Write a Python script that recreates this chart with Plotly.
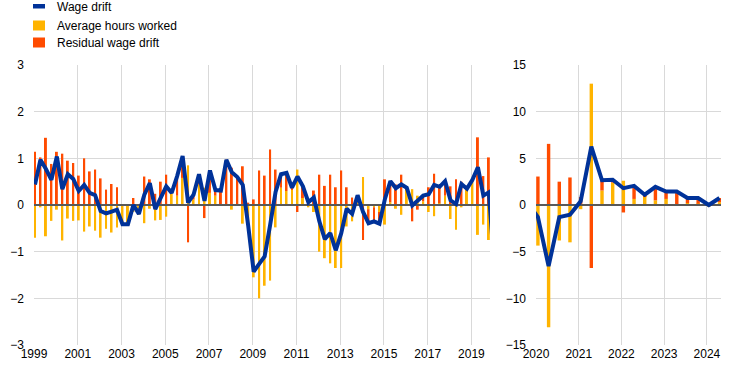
import plotly.graph_objects as go

# ---------------- data (quarterly, percentage points) ----------------
hist_start = 1999  # 1999Q1 .. 2019Q4
hours_hist = [
    -0.70, -0.05, -0.67, -0.34, -0.10, -0.76, -0.29, -0.34, -0.33, -0.57,
    -0.46, -0.55, -0.70, -0.51, -0.59, -0.48, -0.43, -0.41, -0.15, -0.21,
    -0.39, -0.08, -0.33, -0.32, -0.25, 0.26, 0.20, 0.58, 0.85, 0.12,
    0.44, 0.37, 0.26, 0.20, 0.01, 0.02, -0.10, 0.00, -0.40, -0.50,
    -1.55, -2.00, -1.73, -1.62, -0.48, 0.37, 0.30, 0.33, 0.76, 0.15,
    -0.05, -0.15, -1.00, -1.14, -1.25, -1.35, -1.35, -0.46, -0.35, 0.10,
    0.60, -0.09, -0.05, -0.15, -0.42, 0.06, -0.08, -0.21, 0.33, 0.34,
    0.20, 0.08, -0.15, -0.24, 0.04, 0.20, -0.30, -0.53, -0.05, 0.35,
    0.50, -0.64, -0.42, -0.75,
]
resid_hist = [
    1.14, 1.02, 1.44, 0.88, 1.14, 1.10, 0.95, 0.90, 0.63, 1.00,
    0.72, 0.76, 0.57, 0.33, 0.45, 0.38, 0.02, 0.00, 0.15, 0.02,
    0.61, 0.55, 0.24, 0.50, 0.65, 0.00, 0.42, 0.47, -0.80, 0.10,
    0.22, -0.28, 0.48, 0.12, 0.30, 0.95, 0.80, 0.60, 0.83, 0.05,
    0.12, 0.74, 0.63, 1.19, 0.76, 0.29, 0.39, 0.04, -0.15, 0.25,
    0.11, 0.31, 0.65, 0.41, 0.65, 0.38, 0.74, 0.38, 0.16, 0.11,
    -0.75, -0.30, -0.30, -0.25, 0.55, 0.45, 0.44, 0.65, 0.04, -0.35,
    -0.10, 0.12, 0.38, 0.67, 0.35, 0.31, 0.40, 0.55, 0.50, 0.00,
    0.04, 1.45, 0.62, 1.02,
]
wage_hist = [
    0.44, 0.97, 0.77, 0.54, 1.04, 0.34, 0.66, 0.56, 0.30, 0.43,
    0.26, 0.21, -0.13, -0.18, -0.14, -0.10, -0.41, -0.41, 0.00, -0.19,
    0.22, 0.47, -0.09, 0.18, 0.40, 0.26, 0.62, 1.05, 0.05, 0.22,
    0.66, 0.09, 0.74, 0.32, 0.31, 0.97, 0.70, 0.60, 0.43, -0.45,
    -1.43, -1.26, -1.10, -0.43, 0.28, 0.66, 0.69, 0.37, 0.61, 0.40,
    0.06, 0.16, -0.35, -0.73, -0.60, -0.97, -0.61, -0.08, -0.19, 0.21,
    -0.15, -0.39, -0.35, -0.40, 0.13, 0.51, 0.36, 0.44, 0.37, -0.01,
    0.10, 0.20, 0.23, 0.43, 0.39, 0.51, 0.10, 0.02, 0.45, 0.35,
    0.54, 0.81, 0.20, 0.27,
]

recent_start = 2020  # 2020Q1 .. 2024Q2
hours_recent = [-4.35, -13.1, -3.8, -4.0, -0.45, 13.0, 1.55, 2.4, 2.6,
                0.65, 0.95, 0.5, 0.65, 0.05, 0.2, 0.15, -0.2, 0.3]
resid_recent = [3.05, 6.55, 2.5, 2.95, 0.85, -6.75, 1.1, 0.3, -0.8,
                1.4, 0.15, 1.45, 0.8, 1.4, 0.55, 0.6, 0.2, 0.45]
wage_recent = [-1.3, -6.55, -1.3, -1.05, 0.4, 6.25, 2.65, 2.7, 1.8,
               2.05, 1.1, 1.95, 1.45, 1.45, 0.75, 0.75, 0.0, 0.75]

left_ticks = [1999, 2001, 2003, 2005, 2007, 2009, 2011, 2013, 2015, 2017, 2019]
right_ticks = [2020, 2021, 2022, 2023, 2024]

series_names = ["Wage drift", "Average hours worked", "Residual wage drift"]

# ---------------- style ----------------
BLUE = "#003299"
YELLOW = "#FFB400"
ORANGE = "#FF4B00"
GRID = "#D9D9D9"
ZERO = "#595959"
FONT = "Liberation Sans, Arial, sans-serif"

W, H = 744, 373
M_L, M_R, M_T, M_B = 34, 23, 65, 28
PW, PH = W - M_L - M_R, H - M_T - M_B


def qx(start, n):
    # quarterly positions (bars drawn just after the start of each quarter)
    return [start + i / 4 + 0.045 for i in range(n)]


x_hist = qx(hist_start, len(wage_hist))
x_recent = qx(recent_start, len(wage_recent))

left_range = [1999, 2019.85]
right_range = [2020, 2024.33]

fig = go.Figure()

for xs, hrs, res, xa, ya in [
    (x_hist, hours_hist, resid_hist, "x", "y"),
    (x_recent, hours_recent, resid_recent, "x2", "y2"),
]:
    w = 0.09 if xa == "x" else 0.08
    fig.add_trace(go.Bar(x=xs, y=hrs, name=series_names[1], marker_color=YELLOW,
                         marker_line_width=0, width=w, showlegend=False,
                         xaxis=xa, yaxis=ya))
    fig.add_trace(go.Bar(x=xs, y=res, name=series_names[2], marker_color=ORANGE,
                         marker_line_width=0, width=w, showlegend=False,
                         xaxis=xa, yaxis=ya))

# zero lines between bars and the wage-drift line
fig.add_trace(go.Scatter(x=left_range, y=[0, 0], mode="lines", line=dict(color=ZERO, width=2),
                         showlegend=False, hoverinfo="skip", xaxis="x", yaxis="y"))
fig.add_trace(go.Scatter(x=right_range, y=[0, 0], mode="lines", line=dict(color=ZERO, width=2),
                         showlegend=False, hoverinfo="skip", xaxis="x2", yaxis="y2"))

# wage drift lines (each panel's line continues to the neighbouring quarter, clipped at the edge)
fig.add_trace(go.Scatter(x=x_hist + [x_recent[0]], y=wage_hist + [wage_recent[0]],
                         mode="lines", line=dict(color=BLUE, width=4), name=series_names[0],
                         showlegend=False, xaxis="x", yaxis="y"))
fig.add_trace(go.Scatter(x=[x_hist[-1]] + x_recent, y=[wage_hist[-1]] + wage_recent,
                         mode="lines", line=dict(color=BLUE, width=4), name=series_names[0],
                         showlegend=False, xaxis="x2", yaxis="y2"))

# ---------------- legend (keys + labels placed at the top-left) ----------------
def px_x(p):
    return (p - M_L) / PW


def px_y(p):
    return (H - M_B - p) / PH


legend_keys = [  # (colour, top, bottom) in pixels
    (BLUE, 4, 8.5),
    (YELLOW, 20.5, 30.5),
    (ORANGE, 37.5, 47.5),
]
shapes = []
annotations = []
for (col, top, bot), name in zip(legend_keys, series_names):
    shapes.append(dict(type="rect", xref="paper", yref="paper",
                       x0=px_x(33), x1=px_x(45), y0=px_y(bot), y1=px_y(top),
                       fillcolor=col, line=dict(width=0)))
    annotations.append(dict(text=name, xref="paper", yref="paper",
                            x=px_x(55), y=px_y((top + bot) / 2 + 0.5),
                            xanchor="left", yanchor="middle", showarrow=False,
                            font=dict(size=12, family=FONT, color="#000000")))

axis_common = dict(showgrid=True, gridcolor=GRID, gridwidth=1, zeroline=False,
                   showline=False, ticks="", automargin=False,
                   tickfont=dict(size=12, color="#000000", family=FONT))

fig.update_layout(
    width=W, height=H,
    margin=dict(l=M_L, r=M_R, t=M_T, b=M_B, autoexpand=False),
    paper_bgcolor="white", plot_bgcolor="white",
    barmode="relative",
    font=dict(family=FONT, size=12, color="#000000"),
    showlegend=False,
    shapes=shapes,
    annotations=annotations,
    xaxis=dict(domain=[0, 0.6638], range=left_range, tickvals=left_ticks,
               ticktext=[str(t) for t in left_ticks], anchor="y", **axis_common),
    yaxis=dict(range=[-3, 3], tickvals=[-3, -2, -1, 0, 1, 2, 3], anchor="x",
               ticklabelstandoff=9, **axis_common),
    xaxis2=dict(domain=[0.7307, 1], range=right_range, tickvals=right_ticks,
                ticktext=[str(t) for t in right_ticks], anchor="y2", **axis_common),
    yaxis2=dict(range=[-15, 15], tickvals=[-15, -10, -5, 0, 5, 10, 15], anchor="x2",
                ticklabelstandoff=9, **axis_common),
)

fig.write_html("out.html", config={"displayModeBar": False},
               post_script="document.body.style.margin='0px';")
